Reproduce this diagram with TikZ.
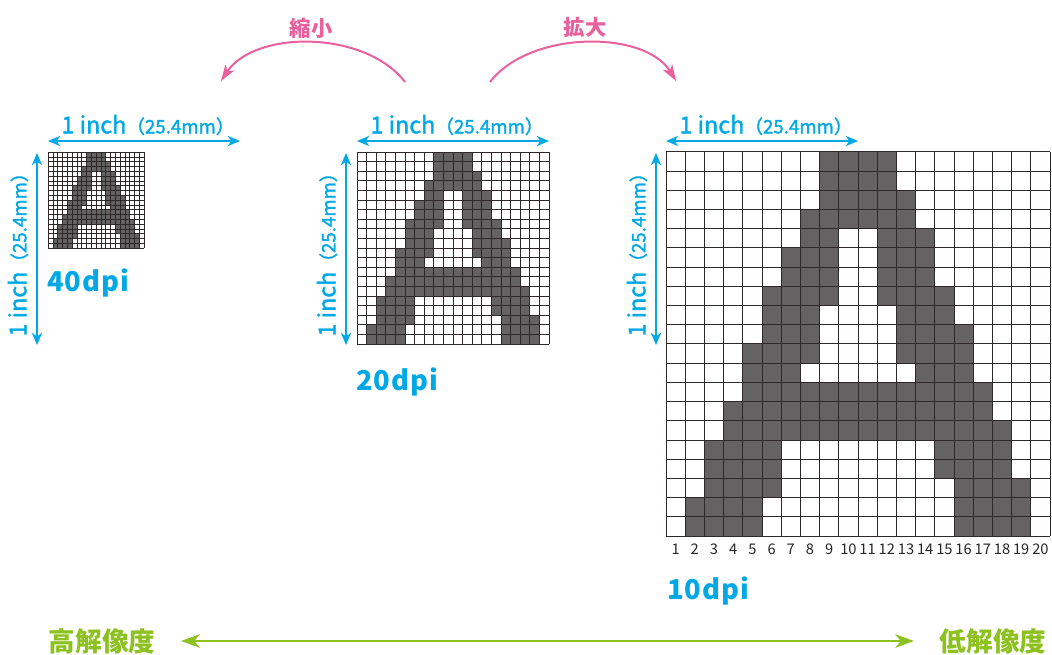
\documentclass[tikz,border=0pt]{standalone}
\usepackage{fontspec}
\setmainfont{Noto Sans CJK JP}
\newfontfamily\dpifont[LetterSpace=4]{Noto Sans CJK JP}
\newfontfamily\dimfont[FakeBold=1.5]{Noto Sans CJK JP}
\usetikzlibrary{arrows.meta}

\definecolor{dimcyan}{HTML}{00A8E6}
\definecolor{zoompink}{HTML}{E9609D}
\definecolor{resgreen}{HTML}{8CC11F}
\definecolor{pixgray}{HTML}{656263}
\definecolor{gridink}{HTML}{2E2828}

\tikzset{
	dimarrow/.style={dimcyan, line width=1.6pt, {Stealth[length=9pt,width=7.5pt,inset=2.5pt]}-{Stealth[length=9pt,width=7.5pt,inset=2.5pt]}},
	dimlabel/.style={text=dimcyan, inner sep=0pt, font=\dimfont\fontsize{17.5}{17.5}\selectfont},
	dpilabel/.style={text=dimcyan, inner sep=0pt, anchor=west, font=\dpifont\bfseries\fontsize{20.5}{20.5}\selectfont},
	colnum/.style={inner sep=0pt, text=black!85, font=\fontsize{11}{11}\selectfont},
	zoomarrow/.style={zoompink, line width=1.5pt, -{Stealth[length=12pt,width=8pt,inset=3pt]}},
	zoomlabel/.style={text=zoompink, inner sep=0pt, font=\bfseries\fontsize{16}{16}\selectfont},
	resarrow/.style={resgreen, line width=2pt, {Stealth[length=14pt,width=10pt,inset=4pt]}-{Stealth[length=14pt,width=10pt,inset=4pt]}},
	reslabel/.style={text=resgreen, inner sep=2pt, font=\bfseries\fontsize{20}{20}\selectfont}
}

% one 20x20 bitmap of the letter: #1 origin, #2 cell size, #3 line width
\newcommand{\pixgrid}[3]{%
	\begin{scope}[shift={#1}, scale=#2]
		% dark pixels, row/first column/last column
		\foreach \row/\cola/\colb in {1/9/12, 2/9/12, 3/9/13, 4/8/13,
			5/8/9, 5/12/14, 6/7/9, 6/12/14, 7/7/9, 7/12/14,
			8/6/9, 8/12/15, 9/6/8, 9/13/15, 10/6/8, 10/13/16,
			11/5/8, 11/13/16, 12/5/7, 12/14/16, 13/5/17, 14/4/17, 15/4/18,
			16/3/6, 16/15/18, 17/3/6, 17/15/18, 18/3/6, 18/16/19,
			19/2/5, 19/16/19, 20/2/5, 20/16/19}
		{
			\fill[pixgray] (\cola-1,\row-1) rectangle (\colb,\row);
		}
		% grid lines
		\foreach \i in {0,...,20}
		{
			\draw[gridink, line width=#3] (\i,0) -- (\i,20);
			\draw[gridink, line width=#3] (0,\i) -- (20,\i);
		}
	\end{scope}}

\begin{document}
\begin{tikzpicture}[x=0.75pt, y=-0.75pt]
	\useasboundingbox (0,0) rectangle (1052,655);
	
	% The three grids
	\pixgrid{(48,152)}{4.8}{0.35pt}
	\pixgrid{(357,152)}{9.6}{0.55pt}
	\pixgrid{(666,152)}{19.2}{0.75pt}
	
	% 1 inch dimensions
	\foreach \gx/\vx/\name in {48/37/s, 357/346/m, 666/656/l}
	{
		\coordinate (\name-hl) at (\gx,141);
		\coordinate (\name-hr) at (\gx+192,141);
		\coordinate (\name-vt) at (\vx,153);
		\coordinate (\name-vb) at (\vx,345);
		\draw[dimarrow] (\name-hl) -- (\name-hr);
		\draw[dimarrow] (\name-vb) -- (\name-vt);
		\node[dimlabel] (\name-htext) at (\gx+100,125) {1 inch{\fontsize{14}{14}\selectfont （25.4mm）}};
		\node[dimlabel, rotate=90] (\name-vtext) at (\vx-19,250) {1 inch{\fontsize{14}{14}\selectfont （25.4mm）}};
	}
	
	% Resolution labels
	\node[dpilabel] (dpi40) at (47,283) {40dpi};
	\node[dpilabel] (dpi20) at (356,382) {20dpi};
	\node[dpilabel] (dpi10) at (667,591) {10dpi};
	
	% Column numbers
	\foreach \c in {1,...,20}
	{
		\node[colnum] (col\c) at (666+19.2*\c-9.6,549) {\c};
	}
	
	% Shrink and enlarge
	\node[zoomlabel] (shrink) at (311,28) {縮小};
	\node[zoomlabel] (enlarge) at (585,27) {拡大};
	\coordinate (shrink-a) at (405,82);
	\coordinate (shrink-b) at (221,81);
	\coordinate (enlarge-a) at (490,82);
	\coordinate (enlarge-b) at (676,81);
	\draw[zoomarrow] (shrink-a) .. controls (365,30) and (255,30) .. (shrink-b);
	\draw[zoomarrow] (enlarge-a) .. controls (530,30) and (645,30) .. (enlarge-b);
	
	% High / low resolution
	\node[reslabel] (hires) at (102,641) {高解像度};
	\node[reslabel] (lores) at (993,641) {低解像度};
	\draw[resarrow, shorten <=17pt, shorten >=17pt] (hires.east) -- (lores.west);
	
\end{tikzpicture}
\end{document}
